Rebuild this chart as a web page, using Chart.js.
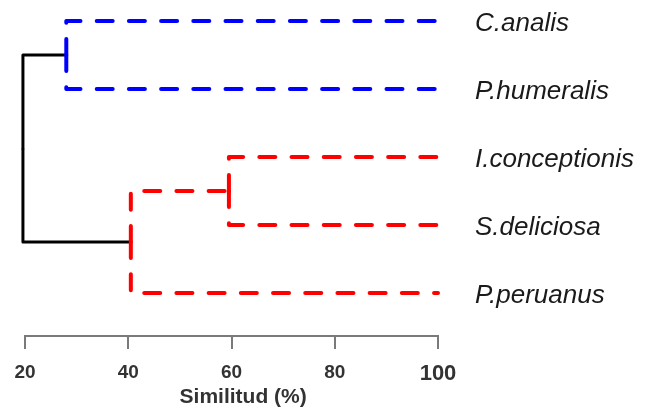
<!DOCTYPE html>
<html>
<head>
<meta charset="utf-8">
<script src="https://cdn.jsdelivr.net/npm/chart.js@4.4.1/dist/chart.umd.min.js"></script>
<style>
  html, body { margin: 0; padding: 0; background: #ffffff; }
  canvas { display: block; }
</style>
</head>
<body>
<canvas id="dendroChart" width="649" height="414"></canvas>
<script>
// leaves, top to bottom (row 1..5)
const leaves = ["C.analis", "P.humeralis", "I.conceptionis", "S.deliciosa", "P.peruanus"];
const leafSimilarity = 100;

// merges: children joined at a similarity level
const mergeIds = ["m1", "m2", "m3", "root"];
const mergeLeft = ["C.analis", "I.conceptionis", "m2", "m1"];
const mergeRight = ["P.humeralis", "S.deliciosa", "P.peruanus", "m3"];
const mergeLevel = [28, 59.5, 40.5, 19.6];
const mergeColor = ["#0000ff", "#ff0000", "#ff0000", "#000000"];

const similarityTicks = [20, 40, 60, 80, 100];

const FONT = "'Liberation Sans', Arial, sans-serif";

// node positions {x: similarity, y: row}
const nodes = {};
leaves.forEach((name, i) => {
  nodes[name] = { x: leafSimilarity, y: i + 1 };
});
mergeIds.forEach((id, i) => {
  const a = nodes[mergeLeft[i]];
  const b = nodes[mergeRight[i]];
  nodes[id] = { x: mergeLevel[i], y: (a.y + b.y) / 2 };
});

// one dataset per edge: parent -> parent level at child row -> child
const datasets = [];
mergeIds.forEach((id, i) => {
  const parent = nodes[id];
  const solid = mergeColor[i] === "#000000";
  [mergeLeft[i], mergeRight[i]].forEach((childId) => {
    const child = nodes[childId];
    let path = [
      { x: parent.x, y: parent.y },
      { x: parent.x, y: child.y },
      { x: child.x, y: child.y },
    ];
    // root sits left of the axis min; list it child-first so
    // Chart.js doesn't trim the points as "out of range"
    if (solid) path = path.reverse();
    datasets.push({
      data: path,
      borderColor: mergeColor[i],
      borderWidth: solid ? 3 : 4,
      borderDash: solid ? [] : [16, 16.2],
      borderCapStyle: solid ? "butt" : "round",
      borderJoinStyle: "round",
      pointRadius: 0,
      tension: 0,
      fill: false,
      clip: false,
    });
  });
});

new Chart(document.getElementById("dendroChart").getContext("2d"), {
  type: "line",
  data: { datasets: datasets },
  options: {
    responsive: false,
    animation: false,
    layout: { padding: { left: 25, right: 0, top: 0, bottom: 0 } },
    plugins: {
      legend: { display: false },
      title: { display: false },
      tooltip: { enabled: false },
    },
    scales: {
      x: {
        type: "linear",
        position: "bottom",
        min: 20,
        max: 100,
        afterBuildTicks: (scale) => {
          scale.ticks = similarityTicks.map((v) => ({ value: v }));
        },
        afterFit: (scale) => {
          scale.height = 78;
        },
        grid: {
          display: true,
          drawOnChartArea: false,
          drawTicks: true,
          tickLength: 13,
          color: "#7a7a7a",
          lineWidth: 2,
        },
        border: { display: true, color: "#7a7a7a", width: 2 },
        ticks: {
          padding: 12,
          color: "#333333",
          maxRotation: 0,
          font: (ctx) => ({
            family: FONT,
            weight: "bold",
            size: ctx.tick && ctx.tick.value === 100 ? 22 : 19,
          }),
        },
        title: {
          display: true,
          // figure spaces nudge the caption right, like the original
          text: "\u2007\u2007Similitud (%)",
          color: "#333333",
          padding: { top: 0, bottom: 4 },
          font: { family: FONT, weight: "bold", size: 21 },
        },
      },
      y: {
        type: "linear",
        position: "right",
        reverse: true,
        min: 0.691,
        max: 5.632,
        afterBuildTicks: (scale) => {
          scale.ticks = leaves.map((_, i) => ({ value: i + 1 }));
        },
        afterFit: (scale) => {
          scale.width = 211;
          scale.paddingTop = 0;
          scale.paddingBottom = 0;
        },
        grid: { display: false, drawTicks: false },
        border: { display: false },
        ticks: {
          padding: 37,
          labelOffset: 3,
          color: "#1a1a1a",
          font: { family: FONT, style: "italic", size: 26 },
          callback: (value) => leaves[Math.round(value) - 1] || "",
        },
      },
    },
  },
});
</script>
</body>
</html>
